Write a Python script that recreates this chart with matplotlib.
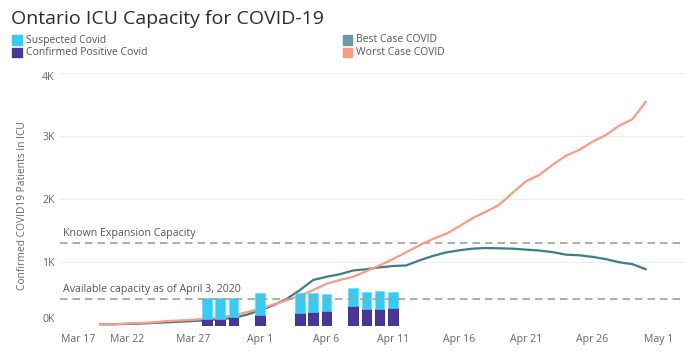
import matplotlib
matplotlib.use('Agg')
import matplotlib.pyplot as plt
from matplotlib.patches import Rectangle
from matplotlib.ticker import FuncFormatter
import pandas as pd

# ---------------- data ----------------
line_dates = pd.date_range('2020-03-20', '2020-04-30', freq='D')
best_case = [20, 20, 25, 30, 40, 50, 60, 70, 85, 100, 120, 170, 240, 320, 420, 560,
             720, 770, 810, 870, 890, 920, 940, 950, 1030, 1100, 1155, 1190, 1215,
             1225, 1220, 1215, 1200, 1185, 1160, 1120, 1110, 1085, 1050, 1000, 970, 890]
worst_case = [20, 20, 30, 40, 50, 70, 80, 90, 110, 130, 160, 210, 270, 330, 400, 470,
              560, 660, 720, 770, 860, 950, 1050, 1160, 1270, 1370, 1450, 1570, 1700,
              1800, 1910, 2100, 2280, 2380, 2540, 2685, 2775, 2905, 3010, 3160, 3260, 3535]

bar_dates = pd.to_datetime(['2020-03-28', '2020-03-29', '2020-03-30', '2020-04-01',
                            '2020-04-04', '2020-04-05', '2020-04-06', '2020-04-08',
                            '2020-04-09', '2020-04-10', '2020-04-11'])
confirmed = [100, 100, 130, 165, 200, 210, 230, 310, 260, 260, 270]
suspected = [330, 330, 300, 345, 310, 300, 270, 290, 270, 280, 260]

expansion_capacity = 1310
available_capacity = 420

tick_dates = pd.to_datetime(['2020-03-17', '2020-03-22', '2020-03-27', '2020-04-01',
                             '2020-04-06', '2020-04-11', '2020-04-16', '2020-04-21',
                             '2020-04-26', '2020-05-01'])
tick_labels = ['Mar 17', 'Mar 22', 'Mar 27', 'Apr 1', 'Apr 6', 'Apr 11', 'Apr 16',
               'Apr 21', 'Apr 26', 'May 1']
y_ticks = [0, 1000, 2000, 3000, 4000]

title = 'Ontario ICU Capacity for COVID-19'
ylabel = 'Confirmed COVID19 Patients In ICU'

# ---------------- style ----------------
FONT = ['Open Sans', 'DejaVu Sans']
plt.rcParams['font.family'] = FONT
C_SUSP = '#33CCF5'
C_CONF = '#48369A'
C_BEST = '#3F7C8A'
C_WORST = '#FC9A82'
C_TEXT = '#666666'

W, H = 700, 364
fig = plt.figure(figsize=(W / 100, H / 100), dpi=100)

def fx(x):
    return x / W

def fy(y):
    return 1 - y / H

ax = fig.add_axes([fx(60), fy(325.5), fx(685) - fx(60), fy(72.5) - fy(325.5)])

# grid
for v in y_ticks:
    ax.axhline(v, color='#EEEEEE', lw=0.8, zorder=0)

ax.plot(line_dates, best_case, color=C_BEST, lw=1.6, zorder=2, solid_joinstyle='round')
ax.plot(line_dates, worst_case, color=C_WORST, lw=1.6, zorder=2, solid_joinstyle='round')

ax.bar(bar_dates, confirmed, width=0.72, color=C_CONF, edgecolor='#2E1D86', lw=0.6, zorder=3)
ax.bar(bar_dates, suspected, bottom=confirmed, width=0.72, color=C_SUSP,
       edgecolor='#5FD8F7', lw=0.4, zorder=3)

ax.axhline(expansion_capacity, color='#A0A0A0', lw=1.2, ls=(0, (4.5, 3)), zorder=1)
ax.axhline(available_capacity, color='#A0A0A0', lw=1.2, ls=(0, (4.5, 3)), zorder=4)

x0 = pd.Timestamp('2020-03-17') - pd.Timedelta(hours=1)
x1 = pd.Timestamp('2020-05-03') - pd.Timedelta(hours=1)
ax.set_xlim(x0, x1)
ax.set_ylim(0, 4000)

ax.text(pd.Timestamp('2020-03-17 05:00'), expansion_capacity + 60, 'Known Expansion Capacity',
        fontsize=7.7, color='#555555', va='bottom', ha='left', zorder=5)
ax.text(pd.Timestamp('2020-03-17 05:00'), available_capacity + 60,
        'Available capacity as of April 3, 2020',
        fontsize=7.7, color='#555555', va='bottom', ha='left', zorder=5)

ax.set_xticks(tick_dates)
ax.set_xticklabels(tick_labels)
ax.set_yticks(y_ticks)
ax.yaxis.set_major_formatter(FuncFormatter(lambda v, p: f'{int(v / 1000)}K'))
ax.tick_params(axis='both', length=0, labelsize=7.6, colors=C_TEXT)
ax.tick_params(axis='x', pad=6)
ax.tick_params(axis='y', pad=4)
xl = ax.get_xticklabels()
xl[0].set_horizontalalignment('left')
yl = ax.get_yticklabels()
yl[0].set_verticalalignment('bottom')
yl[-1].set_verticalalignment('top')
for s in ax.spines.values():
    s.set_visible(False)

fig.text(fx(23), fy(206), ylabel, rotation=90, ha='center', va='center',
         fontsize=7.4, color=C_TEXT)

# title
fig.text(fx(11), fy(19), title, fontsize=14, color='#2B2B2B', ha='left', va='center')

# legend
legend_items = [(12, 40, C_SUSP, 'Suspected Covid'),
                (12, 52.7, C_CONF, 'Confirmed Positive Covid'),
                (342.5, 40, '#6A9AA6', 'Best Case COVID'),
                (342.5, 52.7, C_WORST, 'Worst Case COVID')]
for x, y, c, t in legend_items:
    fig.add_artist(Rectangle((fx(x), fy(y + 4.5)), fx(9.5), fy(0) - fy(9), color=c,
                             transform=fig.transFigure))
    fig.text(fx(x + 14), fy(y), t, fontsize=7.5, color='#555555', ha='left', va='center')

fig.savefig('out.png', dpi=100)
